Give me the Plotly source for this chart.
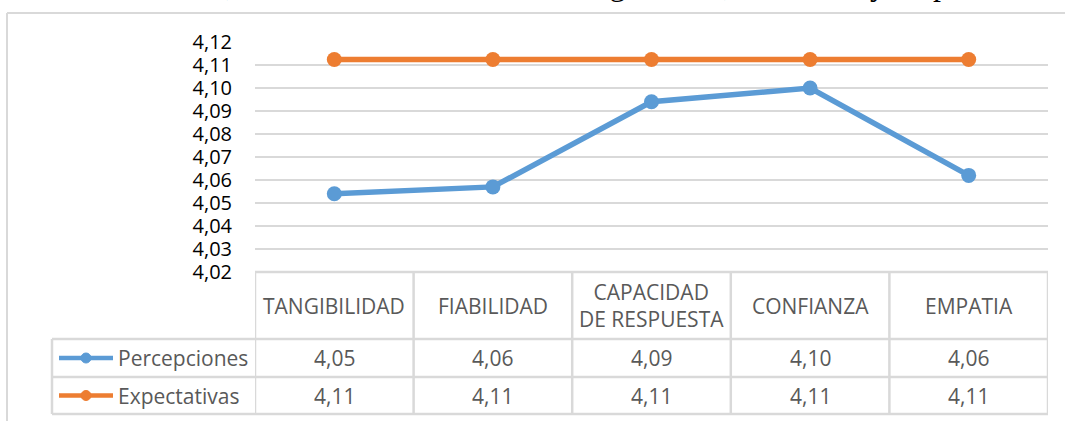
import plotly.graph_objects as go

categories = ["TANGIBILIDAD", "FIABILIDAD", "CAPACIDAD<br>DE RESPUESTA", "CONFIANZA", "EMPATIA"]
percepciones = [4.054, 4.057, 4.094, 4.100, 4.062]
expectativas = [4.1124, 4.1124, 4.1124, 4.1124, 4.1124]
series_names = ["Percepciones", "Expectativas"]
series_colors = ["#5B9BD5", "#ED7D31"]
y_ticks = [4.02, 4.03, 4.04, 4.05, 4.06, 4.07, 4.08, 4.09, 4.10, 4.11, 4.12]
top_text = "En la Tabla 4.4, se observa diferencias de tangibilidad, fiabilidad y empatía"

W, H = 1065, 421
L, R, T, B = 255, 1048, 42, 272
FONT = "Open Sans"
GRID = "#D9D9D9"
TXT = "#595959"


def px(x):
    return (x - L) / (R - L)


def py(y):
    return (B - y) / (B - T)


xs = list(range(len(categories)))
fig = go.Figure()
for name, vals, col in zip(series_names, [percepciones, expectativas], series_colors):
    fig.add_trace(go.Scatter(x=xs, y=vals, mode="lines+markers", name=name,
                             line=dict(color=col, width=5.5),
                             marker=dict(color=col, size=15),
                             cliponaxis=False))

shapes = []
ann = []
# chart frame
shapes.append(dict(type="line", xref="paper", yref="paper", x0=px(7), x1=px(1070), y0=py(13), y1=py(13),
                   line=dict(color=GRID, width=2)))
shapes.append(dict(type="line", xref="paper", yref="paper", x0=px(7), x1=px(7), y0=py(13), y1=py(430),
                   line=dict(color=GRID, width=2)))

# table geometry (pixel rows)
row_top, row_h, row_1, row_2 = 272, 339, 377, 414
n = len(categories)
for i in range(n + 1):
    shapes.append(dict(type="line", xref="x", yref="paper", x0=i - 0.5, x1=i - 0.5,
                       y0=py(row_top), y1=py(row_2), line=dict(color=GRID, width=2.5)))
shapes.append(dict(type="line", xref="paper", yref="paper", x0=px(52), x1=px(52),
                   y0=py(row_h), y1=py(row_2), line=dict(color=GRID, width=2.5)))
for yy, x0 in [(row_top, L), (row_h, 52), (row_1, 52), (row_2, 52)]:
    shapes.append(dict(type="line", xref="paper", yref="paper", x0=px(x0), x1=1,
                       y0=py(yy), y1=py(yy), line=dict(color=GRID, width=2.5)))

for i, c in enumerate(categories):
    ann.append(dict(x=i, y=py((row_top + row_h) / 2), xref="x", yref="paper", text=c, showarrow=False,
                    font=dict(family=FONT, size=21, color=TXT), xanchor="center", yanchor="middle"))

for r, (name, vals, col) in enumerate(zip(series_names, [percepciones, expectativas], series_colors)):
    yc = (row_h + row_1) / 2 if r == 0 else (row_1 + row_2) / 2
    for i, v in enumerate(vals):
        ann.append(dict(x=i, y=py(yc), xref="x", yref="paper", text=f"{v:.2f}".replace(".", ","),
                        showarrow=False, font=dict(family=FONT, size=21, color=TXT),
                        xanchor="center", yanchor="middle"))
    ann.append(dict(x=px(116), y=py(yc), xref="paper", yref="paper", text=name, showarrow=False,
                    font=dict(family=FONT, size=21, color=TXT), xanchor="left", yanchor="middle"))
    shapes.append(dict(type="line", xref="paper", yref="paper", x0=px(59), x1=px(113),
                       y0=py(yc), y1=py(yc), line=dict(color=col, width=4.5)))
    shapes.append(dict(type="circle", xref="paper", yref="paper", x0=px(81), x1=px(91),
                       y0=py(yc - 5), y1=py(yc + 5), fillcolor=col, line=dict(color=col, width=1)))

# clipped caption text at top
ann.append(dict(x=px(31), y=py(4), xref="paper", yref="paper", text=top_text, showarrow=False,
                font=dict(family="Liberation Serif", size=32, color="#000000"),
                xanchor="left", yanchor="bottom"))

fig.update_layout(
    width=W, height=H, autosize=False,
    margin=dict(l=L, r=W - R, t=T, b=H - B, pad=0),
    paper_bgcolor="white", plot_bgcolor="white",
    separators=",.",
    showlegend=False,
    shapes=shapes, annotations=ann,
    xaxis=dict(range=[-0.5, n - 0.5], showgrid=False, zeroline=False, showticklabels=False,
               showline=False, fixedrange=True),
    yaxis=dict(range=[4.02, 4.12], tickvals=y_ticks, tickformat=".2f", showgrid=True,
               gridcolor=GRID, gridwidth=2, zeroline=False, showline=False, fixedrange=True,
               tickfont=dict(family=FONT, size=20, color="#000000"), ticklabelstandoff=22),
)

fig.write_html("out.html", config={"displayModeBar": False, "staticPlot": True},
               post_script="document.body.style.margin='0px';document.body.style.overflow='hidden';")
